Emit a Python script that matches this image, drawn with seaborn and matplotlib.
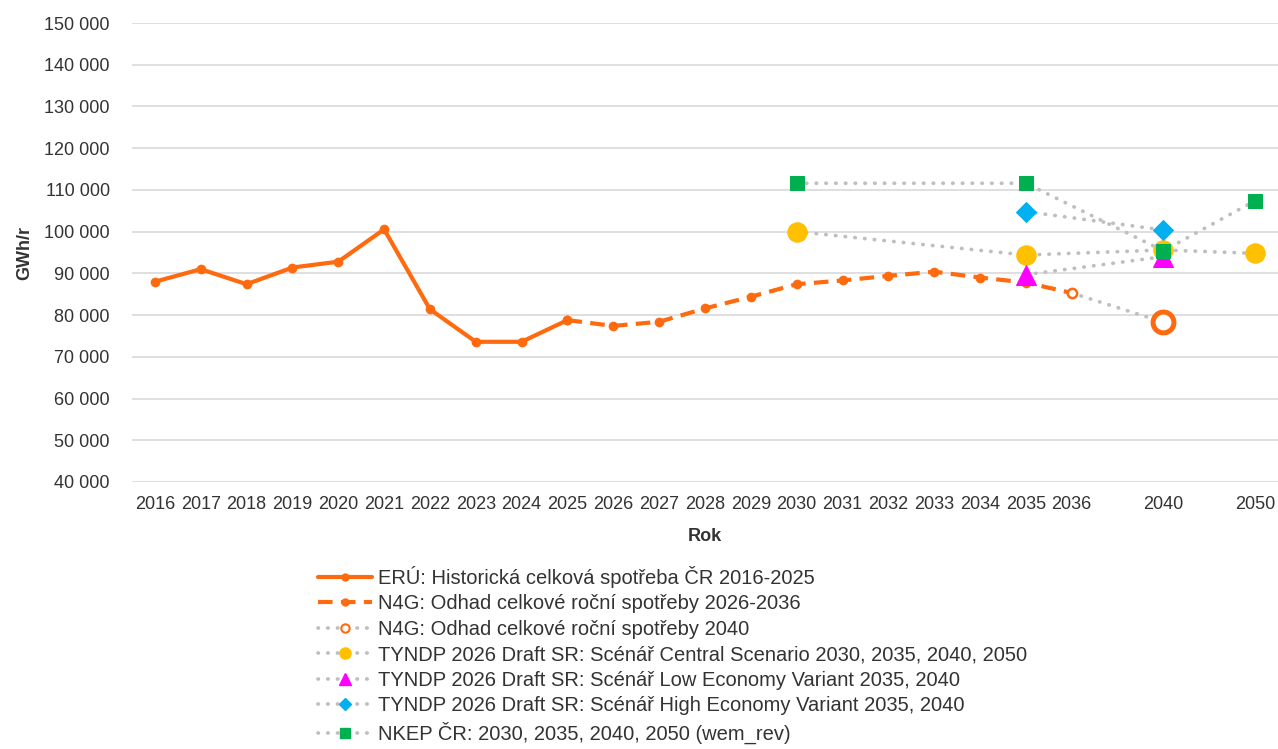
import matplotlib
matplotlib.use("Agg")
import matplotlib.pyplot as plt
from matplotlib.lines import Line2D
from matplotlib.ticker import FuncFormatter, MultipleLocator
import seaborn as sns

# Kategorie osy X (prázdné sloty mezi 2036, 2040 a 2050)
x_labels = [str(r) for r in range(2016, 2037)] + ["", "2040", "", "2050"]

# ERÚ historie
hist_roky = [2016, 2017, 2018, 2019, 2020, 2021, 2022, 2023, 2024, 2025]
hist_hodnoty = [88000, 91000, 87400, 91400, 92800, 100550, 81400, 73600, 73600, 78800]

# N4G odhad 2026-2036 (navazuje na 2025)
n4g_roky = [2025, 2026, 2027, 2028, 2029, 2030, 2031, 2032, 2033, 2034, 2035, 2036]
n4g_hodnoty = [78800, 77400, 78400, 81600, 84400, 87400, 88300, 89400, 90400, 89000, 87800, 85300]

# N4G 2040
n4g40_roky = [2036, 2040]
n4g40_hodnoty = [85300, 78300]

# TYNDP scénáře
central_roky = [2030, 2035, 2040, 2050]
central_hodnoty = [100000, 94400, 95600, 94800]
low_roky = [2035, 2040]
low_hodnoty = [89700, 94000]
high_roky = [2035, 2040]
high_hodnoty = [104800, 100400]

# NKEP
nkep_roky = [2030, 2035, 2040, 2050]
nkep_hodnoty = [111600, 111600, 95400, 107400]

legend_labels = [
    "ERÚ: Historická celková spotřeba ČR 2016-2025",
    "N4G: Odhad celkové roční spotřeby 2026-2036",
    "N4G: Odhad celkové roční spotřeby 2040",
    "TYNDP 2026 Draft SR: Scénář Central Scenario 2030, 2035, 2040, 2050",
    "TYNDP 2026 Draft SR: Scénář Low Economy Variant 2035, 2040",
    "TYNDP 2026 Draft SR: Scénář High Economy Variant 2035, 2040",
    "NKEP ČR: 2030, 2035, 2040, 2050 (wem_rev)",
]


def pos(roky):
    return [x_labels.index(str(r)) for r in roky]


sns.set_style("white")
plt.rcParams["font.family"] = ["Liberation Sans", "DejaVu Sans"]
plt.rcParams["font.size"] = 13

ORANZ = "#FF6A0E"
SEDA = "#BFBFBF"
ZLUTA = "#FFC000"
MAGENTA = "#FF00FF"
MODRA = "#00B0F0"
ZELENA = "#00B050"
TEXT = "#333333"
tecky = (0, (0.1, 2.5))

fig = plt.figure(figsize=(12.78, 7.49), dpi=100)
ax = fig.add_axes([132 / 1278, 1 - 482 / 749, 1146 / 1278, 459 / 749])

sns.lineplot(x=pos(hist_roky), y=hist_hodnoty, ax=ax, color=ORANZ, lw=3,
             marker="o", markersize=7, markeredgewidth=0, zorder=3)
sns.lineplot(x=pos(n4g_roky), y=n4g_hodnoty, ax=ax, color=ORANZ, lw=3,
             linestyle=(0, (3.5, 2)), marker="o", markersize=7,
             markeredgewidth=0, zorder=3)
sns.lineplot(x=pos(n4g40_roky), y=n4g40_hodnoty, ax=ax, color=SEDA, lw=2.7,
             linestyle=tecky, dash_capstyle="round", zorder=4)
sns.scatterplot(x=pos(n4g40_roky[:1]), y=n4g40_hodnoty[:1], ax=ax, s=45,
                facecolor="white", edgecolor=ORANZ, linewidth=1.8, zorder=5)
sns.scatterplot(x=pos(n4g40_roky[1:]), y=n4g40_hodnoty[1:], ax=ax, s=15 ** 2,
                facecolor="white", edgecolor=ORANZ, linewidth=3.6, zorder=5)
sns.lineplot(x=pos(central_roky), y=central_hodnoty, ax=ax, color=SEDA, lw=2.7,
             linestyle=tecky, dash_capstyle="round", marker="o", markersize=14,
             markerfacecolor=ZLUTA, markeredgecolor=ZLUTA, zorder=6)
sns.lineplot(x=pos(low_roky), y=low_hodnoty, ax=ax, color=SEDA, lw=2.7,
             linestyle=tecky, dash_capstyle="round", marker="^", markersize=14,
             markerfacecolor=MAGENTA, markeredgecolor=MAGENTA, zorder=7)
sns.lineplot(x=pos(high_roky), y=high_hodnoty, ax=ax, color=SEDA, lw=2.7,
             linestyle=tecky, dash_capstyle="round", marker="D", markersize=10,
             markerfacecolor=MODRA, markeredgecolor=MODRA, zorder=8)
sns.lineplot(x=pos(nkep_roky), y=nkep_hodnoty, ax=ax, color=SEDA, lw=2.7,
             linestyle=tecky, dash_capstyle="round", marker="s", markersize=9.5,
             markerfacecolor=ZELENA, markeredgecolor=ZELENA, zorder=9)

ax.set_xlim(-0.5, len(x_labels) - 0.5)
ax.set_xticks(range(len(x_labels)))
ax.set_xticklabels(x_labels)
ax.set_ylim(40000, 150000)
ax.yaxis.set_major_locator(MultipleLocator(10000))
ax.yaxis.set_major_formatter(FuncFormatter(lambda v, p: f"{v:,.0f}".replace(",", " ")))
ax.grid(axis="y", color="#D9D9D9", lw=1.2)
ax.set_axisbelow(True)
sns.despine(ax=ax, left=True, bottom=True)
ax.tick_params(axis="both", length=0, labelsize=13, colors=TEXT)
ax.tick_params(axis="y", pad=16)
ax.tick_params(axis="x", pad=10)

ax.set_xlabel("Rok", fontsize=13, fontweight="bold", color=TEXT, labelpad=11)
ax.set_ylabel("GWh/r", fontsize=13, fontweight="bold", color=TEXT)
ax.yaxis.set_label_coords(-0.086, 0.5)

# Legenda s menšími značkami
handles = [
    Line2D([], [], color=ORANZ, lw=3, marker="o", markersize=6, markeredgewidth=0),
    Line2D([], [], color=ORANZ, lw=3, linestyle=(0, (3.5, 2)), marker="o",
           markersize=6, markeredgewidth=0),
    Line2D([], [], color=SEDA, lw=2.7, linestyle=tecky, dash_capstyle="round",
           marker="o", markersize=6, markerfacecolor="white",
           markeredgecolor=ORANZ, markeredgewidth=1.5),
    Line2D([], [], color=SEDA, lw=2.7, linestyle=tecky, dash_capstyle="round",
           marker="o", markersize=8, markerfacecolor=ZLUTA, markeredgecolor=ZLUTA),
    Line2D([], [], color=SEDA, lw=2.7, linestyle=tecky, dash_capstyle="round",
           marker="^", markersize=8.5, markerfacecolor=MAGENTA, markeredgecolor=MAGENTA),
    Line2D([], [], color=SEDA, lw=2.7, linestyle=tecky, dash_capstyle="round",
           marker="D", markersize=6, markerfacecolor=MODRA, markeredgecolor=MODRA),
    Line2D([], [], color=SEDA, lw=2.7, linestyle=tecky, dash_capstyle="round",
           marker="s", markersize=7, markerfacecolor=ZELENA, markeredgecolor=ZELENA),
]
leg = fig.legend(handles, legend_labels, loc="upper left",
                 bbox_to_anchor=(318 / 1278, 1 - 566 / 749), frameon=False,
                 fontsize=14.5, handlelength=2.7, handletextpad=0.3,
                 labelspacing=0.32, borderpad=0, borderaxespad=0)
for t in leg.get_texts():
    t.set_color(TEXT)

fig.savefig("out.png", dpi=100)
